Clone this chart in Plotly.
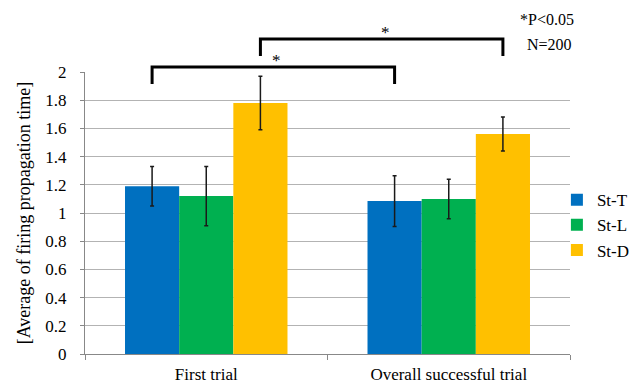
import plotly.graph_objects as go

# Datos
categories = ["First trial", "Overall successful trial"]
series = ["St-T", "St-L", "St-D"]
values = {
    "St-T": [1.19, 1.085],
    "St-L": [1.12, 1.10],
    "St-D": [1.78, 1.56],
}
errors = {
    "St-T": [0.14, 0.18],
    "St-L": [0.21, 0.14],
    "St-D": [0.19, 0.12],
}
colors = {"St-T": "#0070C0", "St-L": "#00B050", "St-D": "#FFC000"}

# Corchetes de significancia: (serie, cat inicio, cat fin, altura, bajada)
brackets = [("St-T", 0, 1, 2.035, 1.915), ("St-D", 0, 1, 2.234, 2.113)]
y_max = 2.0
bargap = 0.33

font = "Liberation Serif"

fig = go.Figure()
for s in series:
    fig.add_trace(go.Bar(
        name=s, x=categories, y=values[s],
        marker=dict(color=colors[s], line=dict(width=0)),
        error_y=dict(type="data", array=errors[s], color="#1a1a1a",
                     thickness=1.5, width=2),
    ))

# Posición de cada barra dentro del grupo
bw = (1 - bargap) / len(series)
def bar_x(s, cat):
    return cat + (series.index(s) - (len(series) - 1) / 2) * bw

shapes = []
annotations = []
for s, c0, c1, h, low in brackets:
    x0, x1 = bar_x(s, c0), bar_x(s, c1)
    shapes.append(dict(
        type="path", xref="x", yref="paper",
        path=f"M {x0},{low / y_max} L {x0},{h / y_max} L {x1},{h / y_max} L {x1},{low / y_max}",
        line=dict(color="black", width=3),
    ))
    annotations.append(dict(
        x=(x0 + x1) / 2 + 0.015, y=h / y_max, xref="x", yref="paper",
        text="*", showarrow=False, yanchor="bottom", yshift=-5,
        font=dict(size=17, color="black", family=font),
    ))

annotations.append(dict(x=0.893, y=1.185, xref="paper", yref="paper",
                        text="*P<0.05", showarrow=False, xanchor="left",
                        yanchor="middle",
                        font=dict(size=16, family=font, color="black")))
annotations.append(dict(x=0.907, y=1.096, xref="paper", yref="paper",
                        text="N=200", showarrow=False, xanchor="left",
                        yanchor="middle",
                        font=dict(size=16, family=font, color="black")))

# La página añade ~8 px de margen, se compensa en tamaño y márgenes
fig.update_layout(
    width=630, height=383,
    margin=dict(l=77, r=68, t=64, b=37, autoexpand=False),
    paper_bgcolor="white", plot_bgcolor="white",
    barmode="group", bargap=bargap, bargroupgap=0,
    font=dict(family=font, size=17, color="black"),
    shapes=shapes, annotations=annotations,
    legend=dict(x=0.973, y=0.457, xanchor="left", yanchor="middle",
                font=dict(size=17, family=font, color="black"),
                bgcolor="rgba(0,0,0,0)"),
    xaxis=dict(showline=True, linecolor="#888888", linewidth=1,
               ticks="outside", tickson="boundaries", ticklen=5,
               tickcolor="#888888", showgrid=False, automargin=False,
               ticklabelstandoff=5,
               tickfont=dict(size=17, family=font, color="black")),
    yaxis=dict(range=[0, y_max], dtick=0.2, showline=True,
               linecolor="#888888", linewidth=1, ticks="outside",
               ticklen=4, tickcolor="#888888", showgrid=True,
               gridcolor="#B3B3B3", gridwidth=1, zeroline=False,
               automargin=False, ticklabelstandoff=10,
               tickfont=dict(size=17, family=font, color="black"),
               title=dict(text="[Average of firing propagation time]",
                          font=dict(size=18, family=font), standoff=10)),
)

fig.write_html("out.html")
